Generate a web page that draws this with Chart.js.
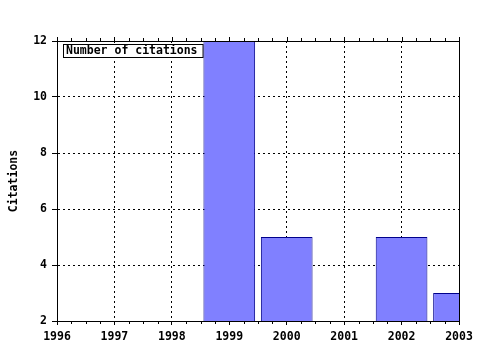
<!DOCTYPE html>
<html>
<head>
<meta charset="utf-8">
<script src="https://cdn.jsdelivr.net/npm/chart.js@4.4.1/dist/chart.umd.min.js"></script>
<style>
  html, body { margin: 0; padding: 0; background: #fff; }
  #wrap { width: 480px; height: 350px; }
</style>
</head>
<body>
<div id="wrap"><canvas id="citeCanvas" width="480" height="350"></canvas></div>
<script>
// DATOS DEL GRAFICO
const years = [1999, 2000, 2002, 2003];
const citations = [12, 5, 5, 3];
const yearTicks = [1996, 1997, 1998, 1999, 2000, 2001, 2002, 2003];
const citationTicks = [2, 4, 6, 8, 10, 12];
const legendLabel = 'Number of citations';
const yTitle = 'Citations';

const FONT = { family: 'DejaVu Sans Mono', size: 11.5, weight: 'bold' };
Chart.defaults.font = FONT;
Chart.defaults.color = '#000';

// PLUGIN: marco superior/derecho, ticks menores y caja de leyenda
const framePlugin = {
  id: 'frame',
  beforeDatasetsDraw(chart) {
    const ctx = chart.ctx;
    const a = chart.chartArea;
    ctx.save();
    ctx.font = 'bold 11.5px "DejaVu Sans Mono"';
    const w = ctx.measureText(legendLabel).width;
    ctx.fillStyle = '#fff';
    ctx.fillRect(a.left + 6.5, a.top + 3.5, w + 8, 13);
    ctx.strokeStyle = '#000';
    ctx.lineWidth = 1;
    ctx.strokeRect(a.left + 6.5, a.top + 3.5, w + 8, 13);
    ctx.fillStyle = '#000';
    ctx.textBaseline = 'middle';
    ctx.fillText(legendLabel, a.left + 9, a.top + 10.5);
    ctx.restore();
  },
  afterDatasetsDraw(chart) {
    const ctx = chart.ctx;
    const a = chart.chartArea;
    const xs = chart.scales.x;
    ctx.save();
    ctx.strokeStyle = '#000';
    ctx.lineWidth = 1;
    ctx.beginPath();
    // borde superior y derecho
    ctx.moveTo(a.left, a.top + 0.5);
    ctx.lineTo(a.right + 0.5, a.top + 0.5);
    ctx.lineTo(a.right + 0.5, a.bottom);
    // ticks del eje x (menores abajo, todos arriba)
    for (let v = yearTicks[0]; v <= yearTicks[yearTicks.length - 1] + 0.001; v += 0.25) {
      const px = Math.round(xs.getPixelForValue(v)) + 0.5;
      const major = Math.abs(v - Math.round(v)) < 0.001;
      ctx.moveTo(px, a.top);
      ctx.lineTo(px, a.top - (major ? 4 : 3));
      if (!major) {
        ctx.moveTo(px, a.bottom);
        ctx.lineTo(px, a.bottom + 3);
      }
    }
    ctx.stroke();
    ctx.restore();
  }
};

const ctx = document.getElementById('citeCanvas').getContext('2d');
const citeChart = new Chart(ctx, {
  type: 'bar',
  data: {
    datasets: [{
      label: legendLabel,
      data: years.map((y, i) => ({ x: y, y: citations[i] })),
      backgroundColor: '#8080ff',
      borderColor: '#00008b',
      borderWidth: 1,
      borderSkipped: 'start',
      barPercentage: 0.9,
      categoryPercentage: 1,
      clip: 0
    }]
  },
  options: {
    responsive: false,
    animation: false,
    layout: { padding: { top: 41, right: 21, left: 0, bottom: 0 } },
    plugins: { legend: { display: false }, tooltip: { enabled: false } },
    scales: {
      x: {
        type: 'linear',
        min: 1996,
        max: 2003,
        offset: false,
        afterBuildTicks: s => { s.ticks = yearTicks.map(v => ({ value: v })); },
        ticks: { padding: 5, maxRotation: 0, callback: v => String(v) },
        grid: {
          offset: false, color: '#000', tickLength: 4,
          tickBorderDash: [], tickColor: '#000'
        },
        border: { color: '#000', width: 1, dash: [2, 3] },
        afterFit: s => { s.height = 29; }
      },
      y: {
        min: 2,
        max: 12,
        afterBuildTicks: s => { s.ticks = citationTicks.map(v => ({ value: v })); },
        ticks: { padding: 5 },
        grid: {
          color: '#000', tickLength: 5,
          tickBorderDash: [], tickColor: '#000'
        },
        border: { color: '#000', width: 1, dash: [2, 3] },
        title: { display: true, text: yTitle, padding: { top: 7.5, bottom: 0 } },
        afterFit: s => { s.width = 57; }
      }
    }
  },
  plugins: [framePlugin]
});
</script>
</body>
</html>
